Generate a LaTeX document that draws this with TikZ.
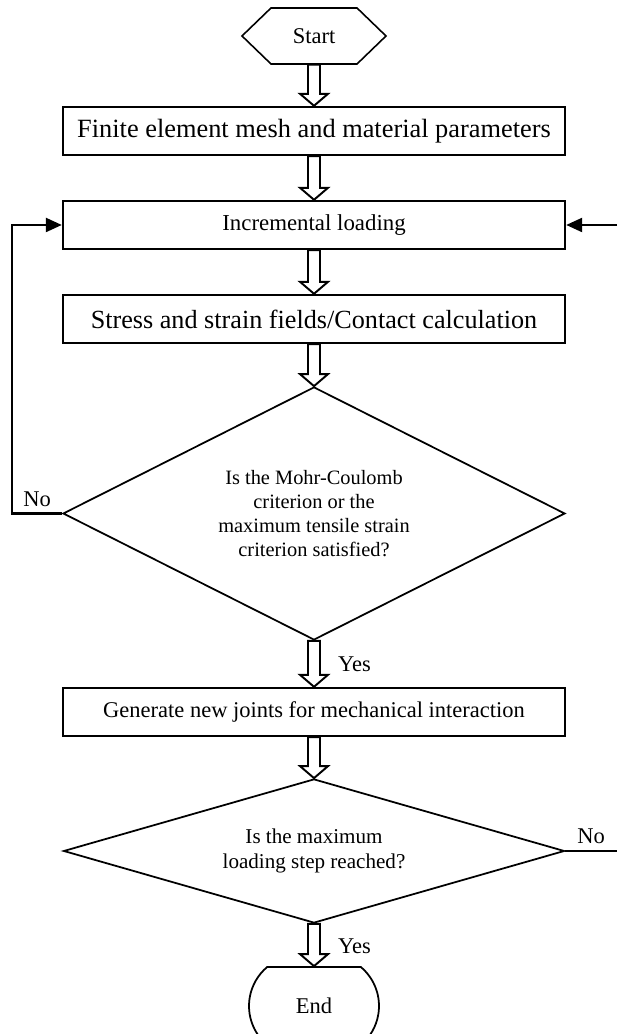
\documentclass[tikz,border=0pt]{standalone}
\usepackage{fontspec}
\setmainfont{Liberation Serif}
\usetikzlibrary{positioning,shapes.geometric,shapes.symbols,shapes.misc,arrows.meta}
\newcommand{\harrow}[2]{% from, to   (hollow arrow pointing down)
  \draw[line width=1.1pt,fill=white] ([xshift=-0.12cm]#1.south) -- ([xshift=-0.12cm,yshift=0.24cm]#2.north)
    -- ([xshift=-0.28cm,yshift=0.24cm]#2.north) -- (#2.north)
    -- ([xshift=0.28cm,yshift=0.24cm]#2.north) -- ([xshift=0.12cm,yshift=0.24cm]#2.north)
    -- ([xshift=0.12cm]#1.south) -- cycle;}

\begin{document}
\begin{tikzpicture}[font=\fontsize{12.8}{15}\selectfont,
  box/.style={draw,line width=1.35pt,minimum width=10.04cm,minimum height=0.96cm,inner sep=0},
  decide/.style={draw,diamond,line width=1pt,align=center,inner sep=0,
    font=\fontsize{11.6}{13.7}\selectfont},
  feed/.style={line width=1.3pt},
  tip/.style={-{Triangle[length=0.32cm,width=0.28cm]}}]
  \useasboundingbox (0,0) rectangle (12.34,20.68);
  % ---- main column ----
  \node[draw,signal,signal to=west and east,signal pointer angle=88,line width=0.9pt,
    minimum width=2.88cm,minimum height=1.12cm,inner sep=0] (start) at (6.28,19.96) {Start};
  \node[box,font=\fontsize{15}{17}\selectfont] (b1) at (6.28,18.06) {Finite element mesh and material parameters};
  \node[box,font=\fontsize{13}{15}\selectfont] (b2) at (6.28,16.18) {Incremental loading};
  \node[box,font=\fontsize{14.9}{17}\selectfont] (b3) at (6.28,14.30) {Stress and strain fields/Contact calculation};
  \node[decide,shape aspect=1.98,minimum width=10.04cm,minimum height=5.06cm] (d1) at (6.28,10.41)
    {Is the Mohr-Coulomb\\criterion or the\\maximum tensile strain\\criterion satisfied?};
  \node[box] (b4) at (6.28,6.44) {Generate new joints for mechanical interaction};
  \node[decide,shape aspect=3.49,minimum width=10.02cm,minimum height=2.88cm,
    font=\fontsize{12}{14.2}\selectfont] (d2) at (6.28,3.66)
    {Is the maximum\\loading step reached?};
  \node[draw,rounded rectangle,rounded rectangle arc length=100,line width=1pt,
    minimum width=2.6cm,minimum height=1.56cm,inner sep=0] (end) at (6.28,0.56) {};
  \node (endtxt) at (6.28,0.56) {End};
  % ---- hollow arrows ----
  \harrow{start}{b1}
  \harrow{b1}{b2}
  \harrow{b2}{b3}
  \harrow{b3}{d1}
  \harrow{d1}{b4}
  \harrow{b4}{d2}
  \harrow{d2}{end}
  \node[anchor=west] (yes1) at ([xshift=0.36cm,yshift=-0.46cm]d1.south) {Yes};
  \node[anchor=west] (yes2) at ([xshift=0.36cm,yshift=-0.44cm]d2.south) {Yes};
  % ---- No branches ----
  \coordinate (fbl) at (0.24,10.41);
  \draw[feed,tip] (d1.west) -- node[above] (no1) {No} (fbl) |- (b2.west);
  \coordinate (rbot) at (12.34,3.66);
  \coordinate (rtop) at (12.34,16.18);
  \draw[feed] (d2.east) -- node[above] (no2) {No} (rbot);
  \draw[feed,tip] (rtop) -- (b2.east);
\end{tikzpicture}
\end{document}
